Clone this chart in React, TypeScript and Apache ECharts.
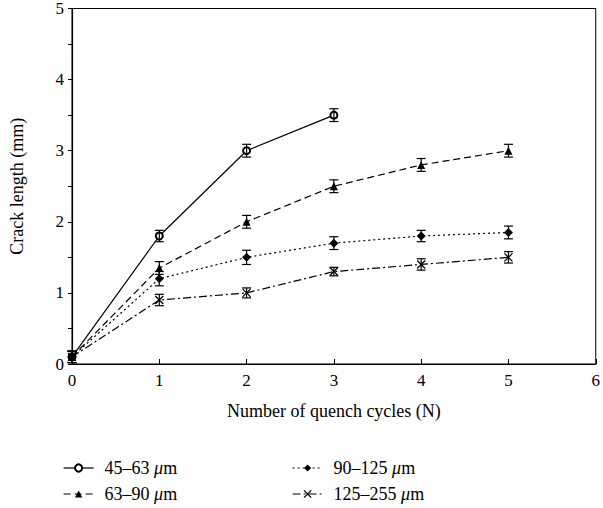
import React, { useEffect, useRef } from "react";
import * as echarts from "echarts";

const cycles = [0, 1, 2, 3, 4, 5];
const names = ["45–63", "63–90", "90–125", "125–255"];
const s45 = [0.1, 1.8, 3.0, 3.5];
const s63 = [0.1, 1.35, 2.0, 2.5, 2.8, 3.0];
const s90 = [0.1, 1.2, 1.5, 1.7, 1.8, 1.85];
const s125 = [0.1, 0.9, 1.0, 1.3, 1.4, 1.5];
const errs45 = [0.08, 0.08, 0.09, 0.09];
const errs63 = [0.08, 0.09, 0.09, 0.09, 0.09, 0.09];
const errs90 = [0.08, 0.1, 0.1, 0.09, 0.08, 0.09];
const errs125 = [0.08, 0.08, 0.07, 0.06, 0.08, 0.08];

const FONT = "Liberation Serif";

export default function App() {
  const ref = useRef<HTMLDivElement>(null);
  useEffect(() => {
    if (!ref.current) return;
    document.body.style.margin = "0";
    const chart = echarts.init(ref.current, null, { renderer: "svg" });
    const allVals = [s45, s63, s90, s125];
    const allErrs = [errs45, errs63, errs90, errs125];
    const symbols = [
      "emptyCircle",
      "triangle",
      "diamond",
      "path://M0,0L10,10M10,0L0,10",
    ];
    const sizes = [7, 8, 9, 8];
    const dashes: any[] = ["solid", [7, 4], [2, 3], [8, 3, 2, 3]];
    const itemStyles = [
      { color: "#000", borderColor: "#000", borderWidth: 1 },
      { color: "#000", borderColor: "#000", borderWidth: 0 },
      { color: "#000", borderColor: "#000", borderWidth: 0 },
      { color: "#000", borderColor: "#000", borderWidth: 1.3 },
    ];
    const lineSeries = allVals.map((vals, i) => ({
      type: "line",
      name: names[i],
      data: vals.map((v, j) => [cycles[j], v]),
      symbol: symbols[i],
      symbolSize: sizes[i],
      showSymbol: true,
      lineStyle: { color: "#000", width: 1.2, type: dashes[i] },
      itemStyle: itemStyles[i],
      z: 2,
    }));
    const errSeries = allVals.map((vals, i) => ({
      type: "custom",
      name: names[i] + "-err",
      data: vals.map((v, j) => [cycles[j], v - allErrs[i][j], v + allErrs[i][j]]),
      renderItem: (params: any, api: any) => {
        const x = api.value(0);
        const lo = api.coord([x, api.value(1)]);
        const hi = api.coord([x, api.value(2)]);
        const w = 4.5;
        const st = { stroke: "#000", lineWidth: 1.2 };
        return {
          type: "group",
          children: [
            { type: "line", shape: { x1: lo[0], y1: lo[1], x2: hi[0], y2: hi[1] }, style: st },
            { type: "line", shape: { x1: lo[0] - w, y1: lo[1], x2: lo[0] + w, y2: lo[1] }, style: st },
            { type: "line", shape: { x1: hi[0] - w, y1: hi[1], x2: hi[0] + w, y2: hi[1] }, style: st },
          ],
        };
      },
      z: 3,
    }));
    const legendItem = (i: number) => ({
      name: names[i],
      itemStyle: itemStyles[i],
      lineStyle: { color: "#000", width: 1.2, type: dashes[i] },
    });
    const legendBase = {
      orient: "vertical",
      itemWidth: 30,
      itemHeight: 9,
      itemGap: 8,
      textStyle: {
        fontFamily: FONT,
        fontSize: 18,
        color: "#000",
        rich: {
          a: { fontFamily: FONT, fontSize: 18, color: "#000" },
          p: { width: 6 },
          i: { fontFamily: FONT, fontSize: 18, color: "#000", fontStyle: "italic" },
        },
      },
      formatter: (n: string) => `{p|}{a|${n} }{i|μ}{a|m}`,
    };
    chart.setOption({
      animation: false,
      backgroundColor: "#fff",
      grid: {
        left: 70,
        top: 7,
        right: 6,
        bottom: 144,
        show: true,
        borderColor: "#000",
        borderWidth: 1,
      },
      legend: [
        { ...legendBase, data: [legendItem(0), legendItem(1)], left: 58, top: 454 },
        { ...legendBase, data: [legendItem(2), legendItem(3)], left: 287, top: 454 },
      ],
      xAxis: {
        type: "value",
        min: 0,
        max: 6,
        interval: 1,
        name: "Number of quench cycles (N)",
        nameLocation: "middle",
        nameGap: 38,
        nameTextStyle: { fontFamily: FONT, fontSize: 18, color: "#000" },
        axisLine: { lineStyle: { color: "#000", width: 1.2 } },
        axisTick: { inside: true, length: 5, lineStyle: { color: "#000" } },
        axisLabel: {
          fontFamily: FONT,
          fontSize: 17,
          color: "#000",
          margin: 8,
          showMaxLabel: true,
          showMinLabel: true,
        },
        splitLine: { show: false },
      },
      yAxis: {
        type: "value",
        min: 0,
        max: 5,
        interval: 0.5,
        name: "Crack length (mm)",
        nameLocation: "middle",
        nameGap: 46,
        nameTextStyle: { fontFamily: FONT, fontSize: 18, color: "#000" },
        axisLine: { show: true, lineStyle: { color: "#000", width: 1.2 } },
        axisTick: { show: true, inside: false, length: 4, lineStyle: { color: "#000" } },
        axisLabel: {
          fontFamily: FONT,
          fontSize: 17,
          color: "#000",
          margin: 8,
          showMaxLabel: true,
          formatter: (v: number) => (Number.isInteger(v) ? String(v) : ""),
        },
        splitLine: { show: false },
      },
      series: [...lineSeries, ...errSeries],
    });
    return () => chart.dispose();
  }, []);
  return <div ref={ref} style={{ width: 603, height: 508 }} />;
}
